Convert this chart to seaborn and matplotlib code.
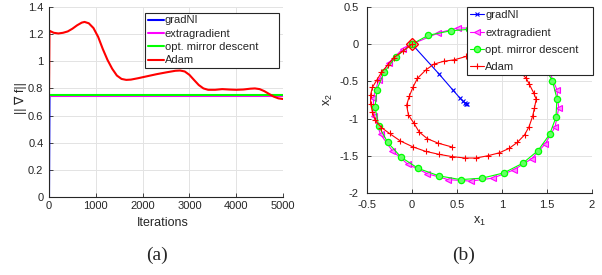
import numpy as np
import pandas as pd
import seaborn as sns
import matplotlib
matplotlib.use('Agg')
from matplotlib import pyplot as plt
from matplotlib import ticker

# (a) gradient norm vs iterations
gradni_iter = [0, 10, 5000]
gradni_norm = [0.0, 0.75, 0.75]
extra_iter = [0, 5000]
extra_norm = [0.745, 0.745]
mirror_iter = [0, 5000]
mirror_norm = [0.755, 0.755]
adam_iter = [0, 10, 100, 200, 300, 400, 500, 600, 700, 760, 850, 950, 1050, 1150, 1250,
             1350, 1450, 1550, 1650, 1750, 1900, 2100, 2300, 2500, 2700, 2800, 2900, 3000,
             3100, 3200, 3300, 3400, 3550, 3700, 3850, 4000, 4150, 4300, 4400, 4500, 4600,
             4700, 4800, 4900, 5000]
adam_norm = [0.75, 1.225, 1.21, 1.205, 1.21, 1.22, 1.24, 1.265, 1.285, 1.29, 1.28, 1.245,
             1.18, 1.09, 1.01, 0.945, 0.895, 0.87, 0.863, 0.865, 0.875, 0.89, 0.905, 0.918,
             0.93, 0.932, 0.925, 0.9, 0.862, 0.825, 0.8, 0.79, 0.79, 0.795, 0.792, 0.79,
             0.792, 0.798, 0.8, 0.795, 0.78, 0.76, 0.74, 0.727, 0.722]

# (b) trajectories in (x1, x2)
gradni_x = [0.00, 0.30, 0.45, 0.53, 0.57, 0.59, 0.60, 0.61]
gradni_y = [0.00, -0.40, -0.61, -0.72, -0.77, -0.79, -0.80, -0.81]
extra_x = [0.00, -0.10, -0.26, -0.37, -0.43, -0.42, -0.35, -0.22, -0.05, 0.17, 0.40, 0.65,
           0.90, 1.13, 1.33, 1.48, 1.59, 1.63, 1.61, 1.53, 1.40, 1.22, 1.00, 0.76, 0.51,
           0.29, 0.00]
extra_y = [0.00, -0.06, -0.25, -0.48, -0.72, -0.97, -1.21, -1.43, -1.61, -1.74, -1.82, -1.84,
           -1.80, -1.69, -1.54, -1.34, -1.11, -0.86, -0.61, -0.38, -0.16, 0.01, 0.14, 0.21,
           0.22, 0.15, 0.00]
mirror_x = [0.00, -0.18, -0.31, -0.39, -0.41, -0.37, -0.27, -0.12, 0.07, 0.30, 0.54, 0.78,
            1.02, 1.23, 1.40, 1.53, 1.60, 1.61, 1.56, 1.45, 1.30, 1.10, 0.87, 0.63, 0.43,
            0.18, 0.00]
mirror_y = [0.00, -0.17, -0.38, -0.61, -0.85, -1.10, -1.32, -1.52, -1.67, -1.77, -1.82, -1.80,
            -1.73, -1.60, -1.43, -1.21, -0.98, -0.73, -0.49, -0.27, -0.08, 0.07, 0.16, 0.20,
            0.18, 0.12, 0.00]
adam_x = [0.00, -0.10, -0.20, -0.27, -0.34, -0.39, -0.44, -0.46, -0.46, -0.44, -0.41, -0.34,
          -0.25, -0.13, 0.01, 0.15, 0.30, 0.44, 0.59, 0.71, 0.84, 0.97, 1.08, 1.17, 1.25,
          1.30, 1.34, 1.36, 1.38, 1.35, 1.30, 1.27, 1.20, 1.10, 0.98, 0.85, 0.72, 0.60, 0.47,
          0.35, 0.24, 0.15, 0.06, 0.01, -0.03, -0.06, -0.04, 0.02, 0.08, 0.17, 0.29, 0.44]
adam_y = [0.00, -0.09, -0.18, -0.28, -0.38, -0.48, -0.58, -0.68, -0.80, -0.91, -1.02, -1.12,
          -1.20, -1.30, -1.38, -1.44, -1.48, -1.51, -1.53, -1.53, -1.50, -1.46, -1.40, -1.32,
          -1.22, -1.11, -0.97, -0.86, -0.74, -0.65, -0.53, -0.46, -0.37, -0.29, -0.23, -0.19,
          -0.17, -0.165, -0.21, -0.23, -0.27, -0.35, -0.46, -0.58, -0.70, -0.82, -0.95, -1.06,
          -1.18, -1.27, -1.33, -1.38]
start_x = [0.0]
start_y = [0.0]

labels = ['gradNI', 'extragradient', 'opt. mirror descent', 'Adam']
colors = ['#0000ff', '#ff00ff', '#00ff00', '#ff0000']

sns.set_style('whitegrid')
plt.rcParams['font.family'] = ['Liberation Sans', 'DejaVu Sans']
plt.rcParams['axes.unicode_minus'] = False
plt.rcParams['grid.color'] = '#e3e3e3'
plt.rcParams['grid.linewidth'] = 0.7

fig = plt.figure(figsize=(6.02, 2.75), dpi=100)
ax1 = fig.add_axes([49 / 602, 1 - 197 / 275, 234 / 602, 190 / 275])
ax2 = fig.add_axes([367 / 602, 1 - 193 / 275, 225 / 602, 186 / 275])

# --- (a)
lw = 1.5
sns.lineplot(x=gradni_iter, y=gradni_norm, ax=ax1, color=colors[0], lw=lw,
             sort=False, estimator=None, label=labels[0])
sns.lineplot(x=extra_iter, y=extra_norm, ax=ax1, color=colors[1], lw=lw,
             sort=False, estimator=None, label=labels[1])
sns.lineplot(x=mirror_iter, y=mirror_norm, ax=ax1, color=colors[2], lw=lw,
             sort=False, estimator=None, label=labels[2])
sns.lineplot(x=adam_iter, y=adam_norm, ax=ax1, color=colors[3], lw=lw,
             sort=False, estimator=None, label=labels[3])
ax1.set_xlim(0, 5000)
ax1.set_ylim(0, 1.4)
ax1.set_xticks(np.arange(0, 5001, 1000))
ax1.set_yticks(np.arange(0, 1.41, 0.2))
ax1.xaxis.set_major_formatter(ticker.FormatStrFormatter('%g'))
ax1.yaxis.set_major_formatter(ticker.FormatStrFormatter('%g'))
ax1.set_xlabel('')
ax1.set_ylabel('')
leg1 = ax1.legend(loc='upper left', bbox_to_anchor=(0.410, 0.0, 0.573, 0.970), mode='expand',
                  borderaxespad=0, fontsize=8, handlelength=1.45, handletextpad=0.1,
                  borderpad=0.25, labelspacing=0.3, fancybox=False, framealpha=1,
                  edgecolor='#262626')
leg1.get_frame().set_linewidth(0.8)

# --- (b)
lw2 = 0.8
ax2.plot(gradni_x, gradni_y, color=colors[0], lw=lw2, marker='x', markersize=3.5,
         mew=0.8, label=labels[0])
ax2.plot(extra_x, extra_y, color=colors[1], lw=lw2, marker='<', markersize=4, mew=0.8,
         mfc='#ff88ff', label=labels[1])
ax2.plot(mirror_x, mirror_y, color=colors[2], lw=lw2, marker='o', markersize=4.5, mew=0.9,
         mfc='#66ff66', label=labels[2])
ax2.plot(adam_x, adam_y, color=colors[3], lw=lw2, marker='+', markersize=5, mew=0.8,
         label=labels[3])
ax2.plot(start_x, start_y, linestyle='none', marker='D', markersize=6, mfc='none',
         mec=colors[3], mew=1.0)
ax2.set_xlim(-0.5, 2)
ax2.set_ylim(-2, 0.5)
ax2.set_xticks(np.arange(-0.5, 2.01, 0.5))
ax2.set_yticks(np.arange(-2, 0.51, 0.5))
ax2.xaxis.set_major_formatter(ticker.FormatStrFormatter('%g'))
ax2.yaxis.set_major_formatter(ticker.FormatStrFormatter('%g'))
leg2 = ax2.legend(loc='upper left', bbox_to_anchor=(0.444, 0.0, 0.56, 1.0), mode='expand',
                  borderaxespad=0, fontsize=8, handlelength=1.2, handletextpad=0.15,
                  borderpad=0.3, labelspacing=0.65, fancybox=False, framealpha=1,
                  edgecolor='#262626')
leg2.get_frame().set_linewidth(0.8)

for ax in (ax1, ax2):
    sns.despine(ax=ax)
    ax.spines['left'].set_color('#262626')
    ax.spines['bottom'].set_color('#262626')
    ax.spines['left'].set_linewidth(0.8)
    ax.spines['bottom'].set_linewidth(0.8)
    ax.tick_params(direction='in', length=3, width=0.6, colors='#262626',
                   labelsize=8, left=True, bottom=True)
    ax.grid(True)
ax1.tick_params(axis='y', pad=4)
ax1.tick_params(axis='x', pad=3)
ax2.tick_params(axis='y', pad=6)
ax2.tick_params(axis='x', pad=5)

# axis labels and panel captions
fig.text(163 / 602, 1 - 223 / 275, 'Iterations', ha='center', va='center', fontsize=9,
         color='#262626')
fig.text(21 / 602, 1 - 98 / 275, '|| \u2207 f||', ha='center', va='center', fontsize=9,
         rotation=90, color='#262626')
fig.text(479 / 602, 1 - 221 / 275, '$\\mathregular{x_1}$', ha='center', va='center',
         fontsize=9, color='#262626')
fig.text(328 / 602, 1 - 100 / 275, '$\\mathregular{x_2}$', ha='center', va='center',
         fontsize=9, rotation=90, color='#262626')
fig.text(157 / 602, 1 - 255 / 275, '(a)', ha='center', va='center', fontsize=14,
         family='Liberation Serif')
fig.text(464 / 602, 1 - 255 / 275, '(b)', ha='center', va='center', fontsize=14,
         family='Liberation Serif')

fig.savefig('out.png', dpi=100)
